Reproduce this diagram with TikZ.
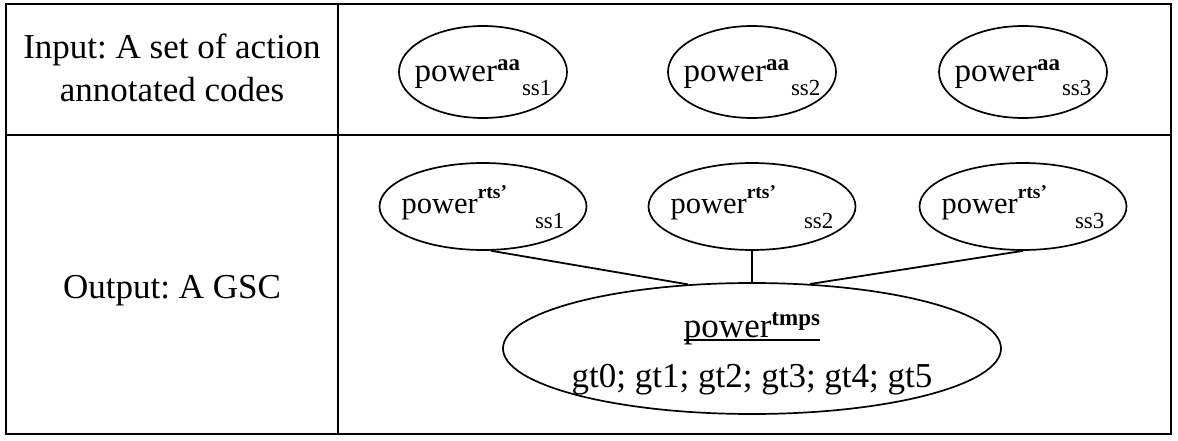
\documentclass[tikz,border=0pt]{standalone}
\usepackage{fontspec}
\setmainfont{Liberation Serif}
\usetikzlibrary{shapes.geometric}
\frenchspacing
\newcommand\fsz[1]{\fontsize{#1}{#1}\selectfont}
\newcommand\myul[1]{\setbox0\hbox{#1}\rlap{\raisebox{-4pt}{\rule{\wd0}{2pt}}}\box0}
\newcommand\aatxt[1]{\makebox[0pt]{\raisebox{-10pt}[0pt][0pt]{\fsz{33}power\raisebox{11pt}{\fsz{23}\bfseries aa}\hspace{2pt}\raisebox{-14pt}{\fsz{23}ss#1}}}}
\newcommand\rtstxt[1]{\makebox[0pt]{\raisebox{-7pt}[0pt][0pt]{\fsz{30.5}power\raisebox{15pt}{\fsz{19.5}\bfseries rts’}\hspace{28pt}\raisebox{-15pt}{\fsz{23}ss#1}}}}
\tikzset{
  oval/.style={ellipse, draw, line width=1.7pt, inner sep=0pt, minimum width=#1},
  cell/.style={line width=2.4pt},
  conn/.style={line width=1.8pt},
  lab/.style={inner sep=0pt}
}
\begin{document}
\begin{tikzpicture}[x=1pt,y=-1pt]
\useasboundingbox (0,0) rectangle (1178,441);
% table
\draw[cell] (6,4) rectangle (1171,434);
\draw[cell] (338,4) -- (338,434);
\draw[cell] (6,135) -- (1171,135);
% left labels
\node[lab] (inlab) at (172,59) {\raisebox{0pt}[0pt][0pt]{\fontsize{35}{43}\selectfont\begin{tabular}[t]{@{}c@{}}Input: A set of action\\annotated codes\end{tabular}}};
\node[lab] (outlab) at (172,298) {\raisebox{0pt}[0pt][0pt]{\fsz{35}Output: A GSC}};
% input ellipses
\node[oval=168pt, minimum height=92pt] (a1) at (483,72) {\aatxt{1}};
\node[oval=168pt, minimum height=92pt] (a2) at (752,72) {\aatxt{2}};
\node[oval=168pt, minimum height=92pt] (a3) at (1023,72) {\aatxt{3}};
% output ellipses
\node[oval=207pt, minimum height=87pt] (r1) at (483,206.5) {\rtstxt{1}};
\node[oval=207pt, minimum height=87pt] (r2) at (752,206.5) {\rtstxt{2}};
\node[oval=207pt, minimum height=87pt] (r3) at (1023,206.5) {\rtstxt{3}};
\node[oval=498pt, minimum height=131pt] (big) at (752,348.5)
  {\makebox[0pt]{\raisebox{11.5pt}[0pt][0pt]{\fontsize{35}{50}\selectfont\begin{tabular}[t]{@{}c@{}}\myul{power\raisebox{12pt}{\fsz{23}\bfseries tmps}}\\gt0; gt1; gt2; gt3; gt4; gt5\end{tabular}}}};
% connectors
\draw[conn] (r1.-80) -- (big.135);
\draw[conn] (r2.south) -- (big.north);
\draw[conn] (r3.south) -- (big.48);
\end{tikzpicture}
\end{document}
